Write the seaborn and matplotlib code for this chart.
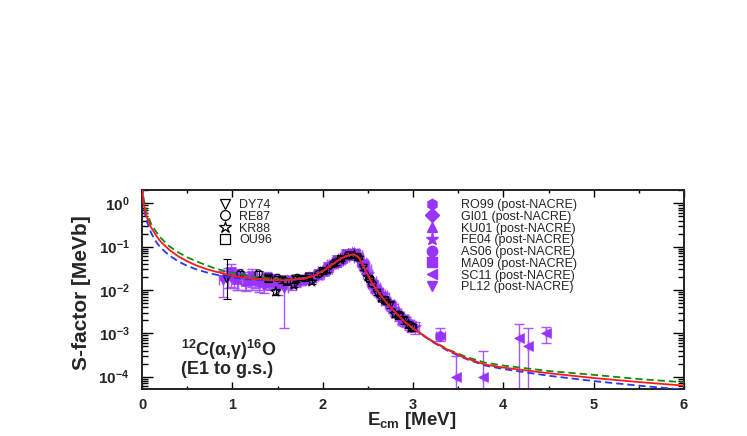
import numpy as np
import pandas as pd
import matplotlib
matplotlib.use("Agg")
import matplotlib.pyplot as plt
import seaborn as sns
from matplotlib.lines import Line2D
from matplotlib.ticker import LogLocator, MultipleLocator, LogFormatterMathtext, NullFormatter

# ---------------- fit curves ----------------
E_fit = [0.0, 0.02, 0.05, 0.1, 0.15, 0.2, 0.3, 0.4, 0.5, 0.6, 0.7, 0.8, 0.9, 1.0,
         1.2, 1.4, 1.6, 1.8, 1.9, 2.0, 2.1, 2.2, 2.3, 2.35, 2.4, 2.45, 2.5, 2.55,
         2.6, 2.7, 2.8, 2.9, 3.0, 3.2, 3.4, 3.6, 3.8, 4.0, 4.5, 5.0, 5.5, 6.0]
S_red = [2.5, 0.9, 0.5, 0.28, 0.19, 0.135, 0.085, 0.060, 0.046, 0.037, 0.031, 0.027,
         0.024, 0.021, 0.0185, 0.017, 0.0168, 0.0185, 0.021, 0.027, 0.038, 0.053,
         0.065, 0.066, 0.056, 0.036, 0.022, 0.014, 0.0098, 0.0053, 0.0031, 0.0019,
         0.0013, 0.00068, 0.00040, 0.00026, 0.00019, 0.000162, 0.00012, 0.000093,
         0.000075, 0.000062]
S_green = [2.6, 1.2, 0.62, 0.34, 0.23, 0.165, 0.103, 0.074, 0.057, 0.046, 0.038, 0.032,
           0.028, 0.025, 0.021, 0.0185, 0.0175, 0.019, 0.0215, 0.0275, 0.038, 0.053,
           0.064, 0.066, 0.057, 0.037, 0.022, 0.014, 0.0098, 0.0053, 0.0031, 0.0019,
           0.0013, 0.00069, 0.00041, 0.00028, 0.00021, 0.00018, 0.000135, 0.00011,
           0.000088, 0.000074]
S_blue = [2.4, 0.75, 0.40, 0.21, 0.135, 0.097, 0.063, 0.046, 0.036, 0.030, 0.026, 0.023,
          0.021, 0.019, 0.0175, 0.0165, 0.0165, 0.0182, 0.021, 0.027, 0.038, 0.053,
          0.065, 0.066, 0.056, 0.036, 0.022, 0.014, 0.0098, 0.0053, 0.0031, 0.0019,
          0.0013, 0.00066, 0.00038, 0.00025, 0.00018, 0.00015, 0.000105, 0.000079,
          0.000062, 0.00005]

# ---------------- pre-NACRE data (black open symbols) ----------------
dy74_E = [0.94, 1.40, 1.55, 1.70, 1.85, 2.00, 2.15, 2.30, 2.45, 2.60, 2.75, 2.90]
dy74_S = [0.018, 0.019, 0.017, 0.018, 0.020, 0.026, 0.042, 0.062, 0.032, 0.0085, 0.0045, 0.0020]
dy74_lo = [0.66, 0.15, 0.15, 0.15, 0.12, 0.12, 0.1, 0.1, 0.1, 0.12, 0.15, 0.2]
dy74_hi = [1.83, 0.15, 0.15, 0.15, 0.12, 0.12, 0.1, 0.1, 0.1, 0.12, 0.15, 0.2]

re87_E = [1.09, 1.29, 1.50, 1.72, 1.95, 2.12, 2.28, 2.40, 2.55, 2.70, 2.85, 3.00]
re87_S = [0.024, 0.024, 0.019, 0.019, 0.023, 0.040, 0.063, 0.056, 0.014, 0.0055, 0.0027, 0.0014]
re87_rel = [0.15, 0.15, 0.12, 0.12, 0.1, 0.1, 0.08, 0.08, 0.1, 0.12, 0.15, 0.18]

kr88_E = [1.48, 1.68, 1.88, 2.05, 2.20, 2.35, 2.50, 2.65, 2.80, 2.95]
kr88_S = [0.0091, 0.013, 0.0155, 0.029, 0.050, 0.064, 0.020, 0.0065, 0.0028, 0.0016]
kr88_rel = [0.15, 0.12, 0.12, 0.1, 0.08, 0.08, 0.1, 0.12, 0.15, 0.18]

ou96_E = [1.40, 1.60, 1.80, 2.00, 2.20, 2.38, 2.52, 2.68, 2.84, 2.98]
ou96_S = [0.018, 0.016, 0.019, 0.028, 0.055, 0.060, 0.018, 0.0060, 0.0026, 0.0014]
ou96_rel = [0.15, 0.12, 0.12, 0.1, 0.08, 0.08, 0.1, 0.12, 0.15, 0.18]

# ---------------- post-NACRE data (purple filled symbols) ----------------
ro99_E = [1.30, 1.45, 1.60, 1.75, 1.90, 2.05, 2.20, 2.30, 2.40, 2.55, 2.70, 2.85, 3.30]
ro99_S = [0.015, 0.016, 0.017, 0.017, 0.021, 0.031, 0.050, 0.068, 0.055, 0.014, 0.0055, 0.0025, 0.00089]
ro99_lo = [0.35, 0.3, 0.25, 0.25, 0.2, 0.15, 0.12, 0.1, 0.1, 0.15, 0.2, 0.25, 0.27]
ro99_hi = [0.35, 0.3, 0.25, 0.25, 0.2, 0.15, 0.12, 0.1, 0.1, 0.15, 0.2, 0.25, 0.46]

gi01_E = [1.35, 1.50, 1.65, 1.80, 1.95, 2.10, 2.25, 2.35, 2.45, 2.60, 2.75, 2.90, 2.98]
gi01_S = [0.014, 0.013, 0.016, 0.018, 0.024, 0.040, 0.062, 0.070, 0.040, 0.010, 0.0045, 0.0021, 0.0015]
gi01_rel = [0.4, 0.4, 0.3, 0.25, 0.2, 0.15, 0.1, 0.1, 0.12, 0.15, 0.2, 0.25, 0.3]

ku01_E = [0.95, 1.05, 1.15, 1.25, 1.40, 1.55, 1.70, 1.85, 2.00, 2.15, 2.28, 2.38, 2.48,
          2.58, 2.68, 2.78, 2.88]
ku01_S = [0.022, 0.018, 0.016, 0.017, 0.015, 0.016, 0.016, 0.019, 0.028, 0.045, 0.064,
          0.064, 0.030, 0.011, 0.0068, 0.0038, 0.0021]
ku01_rel = [0.5, 0.45, 0.4, 0.35, 0.3, 0.3, 0.25, 0.2, 0.15, 0.12, 0.1, 0.1, 0.12, 0.15,
            0.2, 0.22, 0.25]

fe04_E = [1.95, 2.05, 2.15, 2.22, 2.28, 2.33, 2.38, 2.43, 2.50, 2.58, 2.66, 2.74, 2.82, 2.92, 3.02]
fe04_S = [0.022, 0.030, 0.044, 0.056, 0.066, 0.071, 0.064, 0.045, 0.024, 0.012, 0.0075,
          0.0048, 0.0030, 0.0019, 0.0014]
fe04_rel = [0.2, 0.15, 0.12, 0.1, 0.1, 0.1, 0.1, 0.1, 0.12, 0.15, 0.18, 0.2, 0.22, 0.25, 0.3]

as06_E = [1.88, 2.00, 2.12, 2.24, 2.34, 2.44, 2.54, 2.64, 2.76, 2.90]
as06_S = [0.019, 0.027, 0.040, 0.058, 0.072, 0.043, 0.016, 0.0080, 0.0042, 0.0020]
as06_rel = [0.2, 0.15, 0.12, 0.1, 0.1, 0.1, 0.12, 0.15, 0.2, 0.25]

ma09_E = [1.02, 1.22, 1.42, 1.62, 1.82, 2.02, 2.18, 2.32, 2.46, 2.62, 2.80, 2.96]
ma09_S = [0.020, 0.017, 0.015, 0.016, 0.018, 0.028, 0.047, 0.067, 0.034, 0.0090, 0.0032, 0.0016]
ma09_rel = [0.45, 0.4, 0.35, 0.3, 0.25, 0.15, 0.12, 0.1, 0.12, 0.15, 0.2, 0.25]

sc11_E = [3.48, 3.78, 4.17, 4.27, 4.47]
sc11_S = [1.0e-4, 1.0e-4, 8.0e-4, 5.0e-4, 1.0e-3]
sc11_lo = [0.99, 0.99, 0.99, 0.99, 0.39]
sc11_hi = [2.0, 3.0, 1.0, 1.6, 0.4]

pl12_E = [0.90, 0.98, 1.06, 1.14, 1.22, 1.30, 1.38, 1.46, 1.57, 1.66, 1.76, 1.86, 1.96,
          2.06, 2.16, 2.26, 2.36, 2.46, 2.56, 2.66]
pl12_S = [0.017, 0.026, 0.020, 0.018, 0.021, 0.015, 0.019, 0.017, 0.011, 0.014, 0.017,
          0.020, 0.024, 0.034, 0.050, 0.066, 0.068, 0.036, 0.013, 0.0070]
pl12_lo = [0.6, 0.55, 0.5, 0.45, 0.45, 0.4, 0.35, 0.35, 0.88, 0.3, 0.25, 0.2, 0.15, 0.12,
           0.1, 0.1, 0.1, 0.12, 0.15, 0.2]
pl12_hi = [0.6, 0.55, 0.5, 0.45, 0.45, 0.4, 0.35, 0.35, 0.36, 0.3, 0.25, 0.2, 0.15, 0.12,
           0.1, 0.1, 0.1, 0.12, 0.15, 0.2]

# ---------------- style ----------------
sns.set_theme(style="ticks")
plt.rcParams['font.family'] = ['Liberation Sans', 'DejaVu Sans']
plt.rcParams['mathtext.fontset'] = 'custom'
plt.rcParams['mathtext.rm'] = 'Liberation Sans:bold'
plt.rcParams['mathtext.bf'] = 'Liberation Sans:bold'
plt.rcParams['mathtext.it'] = 'Liberation Sans:bold:italic'
plt.rcParams['mathtext.sf'] = 'Liberation Sans:bold'
plt.rcParams['mathtext.default'] = 'regular'

PURPLE = '#9933ff'
PURPLE_ERR = '#aa55ff'

fig = plt.figure(figsize=(7.47, 4.36), dpi=100)
ax = fig.add_axes([0.1901, 0.1071, 0.7256, 0.4571])

purple_sets = [
    ("RO99 (post-NACRE)", 'h', ro99_E, ro99_S, ro99_lo, ro99_hi, 60),
    ("GI01 (post-NACRE)", 'D', gi01_E, gi01_S, gi01_rel, gi01_rel, 35),
    ("KU01 (post-NACRE)", '^', ku01_E, ku01_S, ku01_rel, ku01_rel, 50),
    ("FE04 (post-NACRE)", '*', fe04_E, fe04_S, fe04_rel, fe04_rel, 80),
    ("AS06 (post-NACRE)", 'o', as06_E, as06_S, as06_rel, as06_rel, 45),
    ("MA09 (post-NACRE)", 's', ma09_E, ma09_S, ma09_rel, ma09_rel, 40),
    ("SC11 (post-NACRE)", '<', sc11_E, sc11_S, sc11_lo, sc11_hi, 50),
    ("PL12 (post-NACRE)", 'v', pl12_E, pl12_S, pl12_lo, pl12_hi, 50),
]
black_sets = [
    ("DY74", 'v', dy74_E, dy74_S, dy74_lo, dy74_hi, 30),
    ("RE87", 'o', re87_E, re87_S, re87_rel, re87_rel, 28),
    ("KR88", '*', kr88_E, kr88_S, kr88_rel, kr88_rel, 55),
    ("OU96", 's', ou96_E, ou96_S, ou96_rel, ou96_rel, 24),
]

for label, mk, E, S, lo, hi, s in purple_sets:
    S_a = np.array(S)
    yerr = [S_a * np.array(lo), S_a * np.array(hi)]
    xerr = 0.0 if label.startswith("SC11") else 0.05
    ax.errorbar(E, S, yerr=yerr, xerr=xerr, fmt='none', ecolor=PURPLE_ERR,
                elinewidth=1.0, capsize=3.5, capthick=1.0, zorder=2)
    sns.scatterplot(x=E, y=S, marker=mk, s=s, color=PURPLE, edgecolor=PURPLE,
                    linewidth=0.5, ax=ax, zorder=3, legend=False)

for label, mk, E, S, lo, hi, s in black_sets:
    S_a = np.array(S)
    yerr = [S_a * np.array(lo), S_a * np.array(hi)]
    ax.errorbar(E, S, yerr=yerr, fmt='none', ecolor='black',
                elinewidth=0.8, capsize=3, capthick=0.8, zorder=4)
    sns.scatterplot(x=E, y=S, marker=mk, s=s, facecolor='none', edgecolor='black',
                    linewidth=0.8, ax=ax, zorder=5, legend=False)

fit_df = pd.DataFrame({"E": E_fit, "red": S_red, "green": S_green, "blue": S_blue})
sns.lineplot(data=fit_df, x="E", y="green", color='#108a10', lw=1.3,
             linestyle=(0, (4, 2.2)), ax=ax, zorder=6, sort=False, estimator=None)
sns.lineplot(data=fit_df, x="E", y="blue", color='#1a3cff', lw=1.3,
             linestyle=(0, (4, 2.2)), ax=ax, zorder=6, sort=False, estimator=None)
sns.lineplot(data=fit_df, x="E", y="red", color='#ff1a1a', lw=1.3,
             ax=ax, zorder=7, sort=False, estimator=None)

# ---------------- axes ----------------
ax.set_yscale('log')
ax.set_xlim(0, 6)
ax.set_ylim(5.1e-5, 2.03)
ax.xaxis.set_major_locator(MultipleLocator(1))
ax.xaxis.set_minor_locator(MultipleLocator(0.5))
ax.yaxis.set_major_locator(LogLocator(base=10, numticks=20))
ax.yaxis.set_minor_locator(LogLocator(base=10, subs=np.arange(2, 10), numticks=20))
ax.yaxis.set_major_formatter(LogFormatterMathtext())
ax.yaxis.set_minor_formatter(NullFormatter())

ax.tick_params(axis='both', which='both', direction='in', top=True, right=True,
               color='black', width=1.0)
ax.tick_params(axis='x', which='major', length=5, pad=6, labelsize=10.5)
ax.tick_params(axis='x', which='minor', length=2.5)
ax.tick_params(axis='y', which='major', length=8, pad=9, labelsize=11)
ax.tick_params(axis='y', which='minor', length=4.5)
for lab in ax.get_xticklabels() + ax.get_yticklabels():
    lab.set_fontweight('bold')
for sp in ax.spines.values():
    sp.set_linewidth(1.4)
    sp.set_color('#222222')

ax.set_xlabel(r"E$_{\mathbf{cm}}$ [MeV]", fontsize=13.5, fontweight='bold')
ax.set_ylabel("S-factor [MeVb]", fontsize=15, fontweight='bold')
ax.xaxis.set_label_coords(0.498, -0.105)
ax.yaxis.set_label_coords(-0.094, 0.485)

ax.text(0.072, 0.198, r"$^{12}$C(α,γ)$^{16}$O", transform=ax.transAxes,
        fontsize=13, fontweight='bold', ha='left', va='center')
ax.text(0.072, 0.100, "(E1 to g.s.)", transform=ax.transAxes,
        fontsize=13, fontweight='bold', ha='left', va='center')

# ---------------- legends ----------------
left_handles = [Line2D([0], [0], marker=mk, ls='none', mfc='none', mec='black',
                       mew=0.9, ms=(9 if mk == '*' else 7))
                for _, mk, *_ in black_sets]
leg1 = ax.legend(left_handles, [b[0] for b in black_sets], loc='upper left',
                 bbox_to_anchor=(219 / 747, 1 - 199 / 436), bbox_transform=fig.transFigure,
                 frameon=False, fontsize=9, handlelength=1.0, handletextpad=0.6,
                 labelspacing=-0.02, borderpad=0, borderaxespad=0)
ax.add_artist(leg1)
right_handles = [Line2D([0], [0], marker=mk, ls='none', color=PURPLE, mec=PURPLE,
                        ms=(9.5 if mk == '*' else 7.5))
                 for _, mk, *_ in purple_sets]
ax.legend(right_handles, [p[0] for p in purple_sets], loc='upper left',
          bbox_to_anchor=(426 / 747, 1 - 199 / 436), bbox_transform=fig.transFigure,
          frameon=False, fontsize=9, handlelength=1.0, handletextpad=1.8,
          labelspacing=-0.02, borderpad=0, borderaxespad=0)

fig.savefig("out.png", dpi=100, facecolor='white')
